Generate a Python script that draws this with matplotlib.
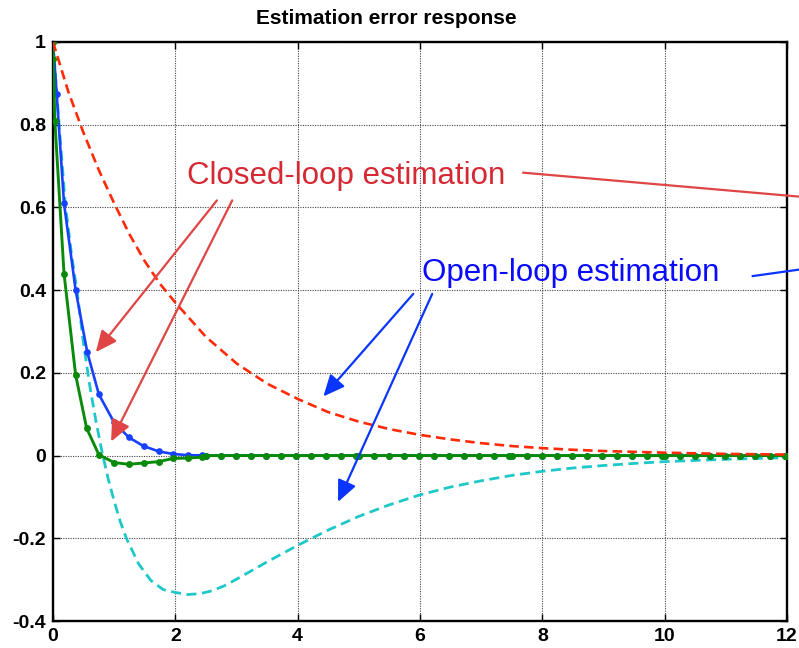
import matplotlib
matplotlib.use("Agg")
import matplotlib.pyplot as plt

plt.rcParams["font.family"] = ["Liberation Sans", "DejaVu Sans"]

# Common solver time grid after t = 2.5 (steps restart at every 2.5 s)
t_tail = [2.5, 2.745, 2.99, 3.235, 3.48, 3.725, 3.97, 4.215, 4.46, 4.705, 4.95,
          5.0, 5.245, 5.49, 5.735, 5.98, 6.225, 6.47, 6.715, 6.96, 7.205, 7.45,
          7.5, 7.745, 7.99, 8.235, 8.48, 8.725, 8.97, 9.215, 9.46, 9.705, 9.95,
          10.0, 10.245, 10.49, 10.735, 10.98, 11.225, 11.47, 11.715, 11.96, 12.0]
zero_tail = [0.0] * len(t_tail)

# Closed-loop estimation error, state 1 (blue, markers)
blue_t = [0.0, 0.06, 0.18, 0.37, 0.56, 0.75, 1.0, 1.24, 1.48, 1.73, 1.96, 2.2, 2.44] + t_tail
blue_y = [1.0, 0.875, 0.61, 0.40, 0.25, 0.148, 0.08, 0.044, 0.023, 0.010, 0.004,
          0.001, 0.0005] + zero_tail

# Closed-loop estimation error, state 2 (green, markers)
green_t = [0.0, 0.005, 0.03, 0.18, 0.37, 0.55, 0.75, 1.0, 1.24, 1.48, 1.73, 1.96,
           2.2, 2.44] + t_tail
green_y = [1.0, 0.96, 0.81, 0.44, 0.195, 0.066, 0.002, -0.017, -0.021, -0.018,
           -0.0146, -0.007, -0.006, -0.004] + zero_tail

# Open-loop estimation error, state 1 (red dashed)
red_t = [0.0, 0.25, 0.5, 0.75, 1.0, 1.25, 1.5, 1.75, 2.0, 2.5, 3.0, 3.5, 4.0, 4.5,
         5.0, 5.5, 6.0, 6.5, 7.0, 7.5, 8.0, 8.5, 9.0, 9.5, 10.0, 11.0, 12.0]
red_y = [1.0, 0.88, 0.78, 0.69, 0.61, 0.535, 0.47, 0.415, 0.37, 0.287, 0.223,
         0.174, 0.137, 0.105, 0.082, 0.064, 0.050, 0.039, 0.030, 0.023, 0.018,
         0.014, 0.011, 0.009, 0.007, 0.004, 0.0025]

# Open-loop estimation error, state 2 (cyan dashed)
cyan_t = [0.0, 0.1, 0.2, 0.3, 0.4, 0.5, 0.6, 0.7, 0.8, 0.9, 1.0, 1.1, 1.2, 1.4, 1.6,
          1.8, 2.0, 2.2, 2.4, 2.6, 2.8, 3.0, 3.25, 3.5, 3.75, 4.0, 4.5, 5.0, 5.5,
          6.0, 6.5, 7.0, 7.5, 8.0, 8.5, 9.0, 9.5, 10.0, 11.0, 12.0]
cyan_y = [1.0, 0.80, 0.61, 0.49, 0.39, 0.27, 0.17, 0.085, 0.01, -0.055, -0.11,
          -0.16, -0.2, -0.262, -0.302, -0.324, -0.331, -0.336, -0.334, -0.327,
          -0.315, -0.299, -0.278, -0.257, -0.237, -0.217, -0.18, -0.147, -0.119,
          -0.095, -0.076, -0.061, -0.048, -0.038, -0.030, -0.024, -0.019,
          -0.0146, -0.009, -0.005]

x_ticks = [0, 2, 4, 6, 8, 10, 12]
x_labels = ["0", "2", "4", "6", "8", "10", "12"]
y_ticks = [-0.4, -0.2, 0.0, 0.2, 0.4, 0.6, 0.8, 1.0]
y_labels = ["-0.4", "-0.2", "0", "0.2", "0.4", "0.6", "0.8", "1"]

W, H = 799, 648
fig = plt.figure(figsize=(W / 100, H / 100), dpi=100)
ax = fig.add_axes([53 / W, 1 - 621 / H, (787 - 53) / W, (621 - 42) / H])

ax.plot(cyan_t, cyan_y, color="#1ec8c8", lw=2.0, dashes=(3.6, 2.0), zorder=3)
ax.plot(blue_t, blue_y, color="#1740ff", lw=1.9, marker="o", ms=4.8,
        markeredgewidth=0, zorder=4)
ax.plot(green_t, green_y, color="#0a8a0a", lw=2.1, marker="o", ms=5.0,
        markeredgewidth=0, zorder=4)
ax.plot(red_t, red_y, color="#ff2a08", lw=1.9, dashes=(3.6, 2.0), zorder=5)

ax.set_xlim(0, 12)
ax.set_ylim(-0.4, 1.0)
ax.set_xticks(x_ticks)
ax.set_xticklabels(x_labels)
ax.set_yticks(y_ticks)
ax.set_yticklabels(y_labels)
ax.tick_params(direction="in", length=5, width=1, top=True, right=True,
               labelsize=14, pad=5)
for lab in ax.get_xticklabels() + ax.get_yticklabels():
    lab.set_fontweight("bold")
ax.grid(True, color="#444444", linestyle=(0, (1, 1.2)), linewidth=0.8)
for sp in ax.spines.values():
    sp.set_linewidth(1.7)
    sp.set_color("black")

fig.text(386 / W, 1 - 18 / H, "Estimation error response", ha="center",
         va="center", fontsize=15, fontweight="bold")

head = "-|>,head_length=1.0,head_width=0.45"

# Annotation: closed-loop
red_txt = "#d52a33"
red_arr = "#e04545"
ax.text(4.80, 0.677, "Closed-loop estimation", color=red_txt, fontsize=22.5,
        ha="center", va="center", zorder=6)
for start, tip in [((2.68, 0.617), (0.70, 0.25)), ((2.93, 0.617), (0.95, 0.034))]:
    ax.annotate("", xy=tip, xytext=start, annotation_clip=False, zorder=6,
                arrowprops=dict(arrowstyle=head, mutation_scale=13,
                                color=red_arr, lw=1.6, shrinkA=0, shrinkB=0))
ax.plot([7.69, 12.6], [0.684, 0.621], color=red_arr, lw=1.6, clip_on=False,
        zorder=6)

# Annotation: open-loop
blue_txt = "#0a0aff"
blue_arr = "#0a35ff"
ax.text(8.46, 0.442, "Open-loop estimation", color=blue_txt, fontsize=22.5,
        ha="center", va="center", zorder=6)
for start, tip in [((5.89, 0.391), (4.42, 0.143)), ((6.20, 0.391), (4.66, -0.112))]:
    ax.annotate("", xy=tip, xytext=start, annotation_clip=False, zorder=6,
                arrowprops=dict(arrowstyle=head, mutation_scale=13,
                                color=blue_arr, lw=1.6, shrinkA=0, shrinkB=0))
ax.plot([11.44, 12.6], [0.434, 0.458], color=blue_arr, lw=1.6, clip_on=False,
        zorder=6)

fig.savefig("out.png", dpi=100)
